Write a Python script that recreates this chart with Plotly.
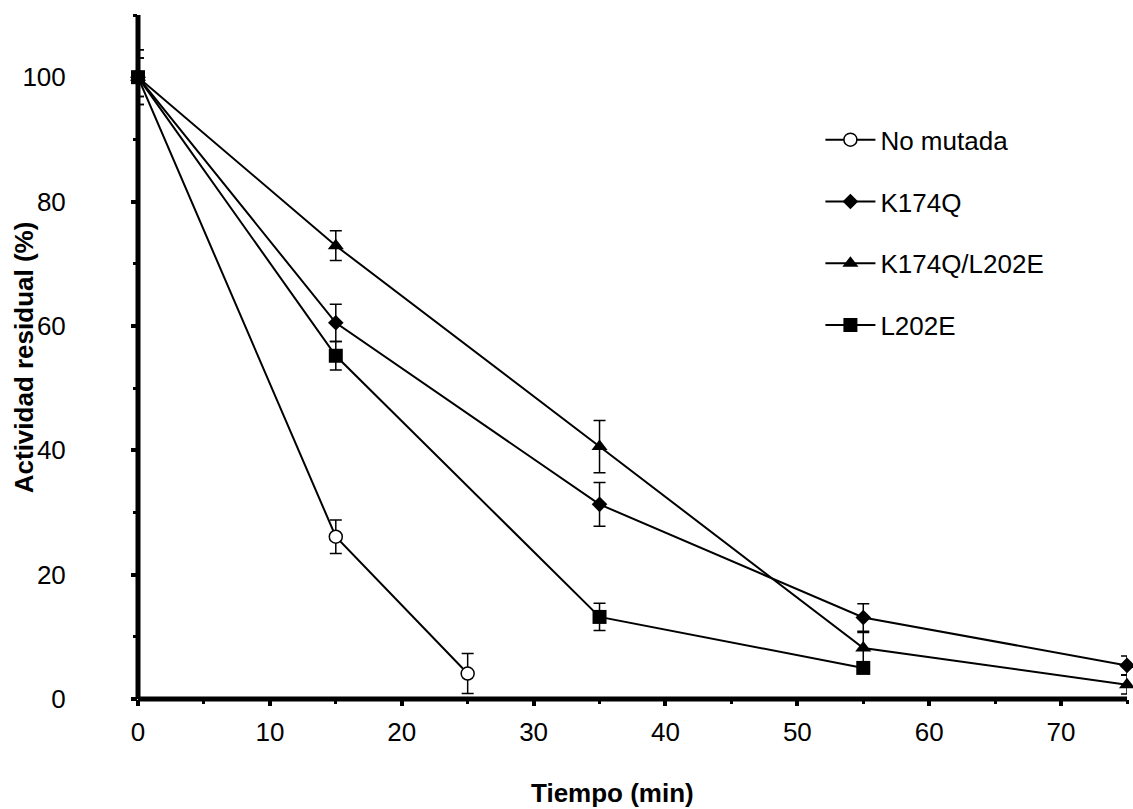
import plotly.graph_objects as go

# Residual activity (%) vs incubation time (min) for each enzyme variant
series_names = ["No mutada", "K174Q", "K174Q/L202E", "L202E"]

time_no_mutada = [0, 15, 25]
act_no_mutada = [100, 26.1, 4.1]
err_no_mutada = [4.4, 2.7, 3.2]

time_k174q = [0, 15, 35, 55, 75]
act_k174q = [100, 60.5, 31.3, 13.1, 5.4]
err_k174q = [3.1, 3.0, 3.5, 2.2, 1.5]

time_k174q_l202e = [0, 15, 35, 55, 75]
act_k174q_l202e = [100, 72.9, 40.6, 8.2, 2.3]
err_k174q_l202e = [3.1, 2.4, 4.2, 2.5, 1.5]

time_l202e = [0, 15, 35, 55]
act_l202e = [100, 55.2, 13.2, 5.0]
err_l202e = [4.4, 2.3, 2.2, 0.8]

x_ticks = [0, 10, 20, 30, 40, 50, 60, 70]
y_ticks = [0, 20, 40, 60, 80, 100]

FONT = "Arial, 'Liberation Sans', sans-serif"

styles = [
    dict(symbol="circle", size=13, color="white", line=dict(color="black", width=1.5)),
    dict(symbol="diamond", size=12, color="black", line=dict(color="black", width=0)),
    dict(symbol="triangle-up", size=14, color="black", line=dict(color="black", width=0)),
    dict(symbol="square", size=14, color="black", line=dict(color="black", width=0)),
]

data = [
    (time_no_mutada, act_no_mutada, err_no_mutada),
    (time_k174q, act_k174q, err_k174q),
    (time_k174q_l202e, act_k174q_l202e, err_k174q_l202e),
    (time_l202e, act_l202e, err_l202e),
]

fig = go.Figure()
for name, (xs, ys, es), mk in zip(series_names, data, styles):
    fig.add_trace(go.Scatter(
        x=xs, y=ys, name=name, mode="lines+markers",
        line=dict(color="black", width=2),
        marker=mk,
        error_y=dict(type="data", array=es, visible=True,
                     color="black", thickness=1.5, width=6),
        cliponaxis=False,
        legendgroup=name,
    ))

axis_common = dict(
    ticks="outside", ticklen=6, tickwidth=4, tickcolor="black",
    showline=False, showgrid=False, zeroline=False,
    tickfont=dict(family=FONT, size=26),
    automargin=False,
)

fig.update_layout(
    width=1133, height=809,
    margin=dict(l=138, r=6, t=15, b=110),
    paper_bgcolor="white", plot_bgcolor="white",
    font=dict(family=FONT, size=26, color="black"),
    showlegend=True,
    legend=dict(
        x=0.69, y=0.852, xanchor="left", yanchor="top",
        font=dict(family=FONT, size=26, color="black"),
        bgcolor="rgba(0,0,0,0)",
        tracegroupgap=25, traceorder="grouped",
        itemwidth=50,
    ),
    xaxis=dict(
        range=[0, 75],
        tickmode="array", tickvals=x_ticks,
        minor=dict(dtick=5, tick0=0, ticks="outside", ticklen=4,
                   tickwidth=3, tickcolor="black"),
        ticklabelstandoff=4,
        **axis_common,
    ),
    yaxis=dict(
        range=[0, 110],
        tickmode="array", tickvals=y_ticks,
        minor=dict(dtick=10, tick0=0, ticks="outside", ticklen=4,
                   tickwidth=3, tickcolor="black"),
        ticklabelstandoff=60,
        **axis_common,
    ),
    # heavy axis lines, kept beneath the markers
    shapes=[
        dict(type="line", xref="paper", yref="paper", x0=0, x1=0, y0=0, y1=1,
             line=dict(color="black", width=5), layer="below"),
        dict(type="line", xref="paper", yref="paper", x0=0, x1=1, y0=0, y1=0,
             line=dict(color="black", width=5), layer="below"),
    ],
    annotations=[
        dict(text="<b>Actividad residual (%)</b>", textangle=-90,
             xref="paper", yref="paper", x=-0.115, y=0.5,
             xanchor="center", yanchor="middle", showarrow=False,
             font=dict(family=FONT, size=26, color="black")),
        dict(text="<b>Tiempo (min)</b>",
             xref="paper", yref="paper", x=0.48, y=-0.137,
             xanchor="center", yanchor="middle", showarrow=False,
             font=dict(family=FONT, size=26, color="black")),
    ],
)

fig.write_html("out.html")
